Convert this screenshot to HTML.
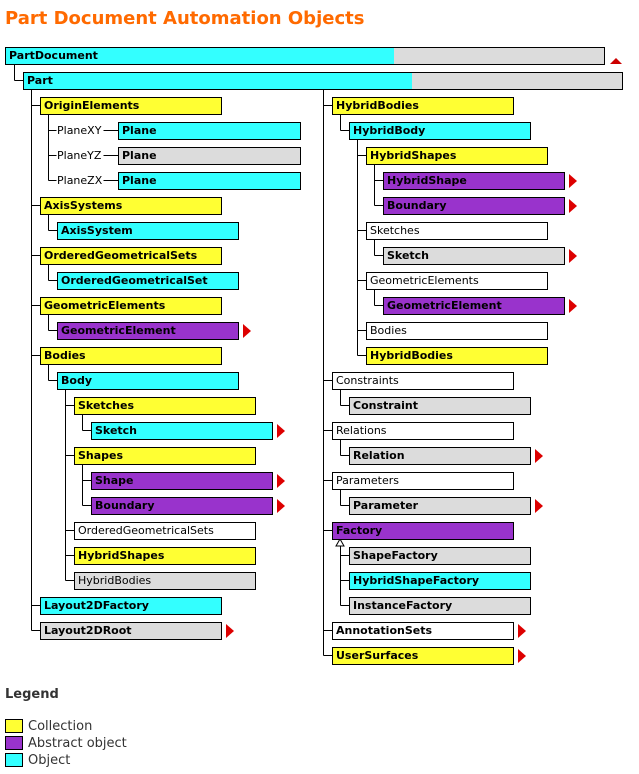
<!DOCTYPE html>
<html><head><meta charset="utf-8">
<style>
body{margin:0;width:639px;height:774px;background:#fff;position:relative;overflow:hidden;font-family:"DejaVu Sans","Liberation Sans",sans-serif;}
.t{position:absolute;left:5px;top:8px;font-size:18px;font-weight:bold;color:#ff6a00;font-family:"DejaVu Sans",sans-serif;}
.b{position:absolute;box-sizing:border-box;border:1px solid #000;height:18px;font-size:11px;line-height:15px;padding-left:3px;color:#000;white-space:nowrap;overflow:hidden;}
.y{background:#ffff33}.c{background:#33ffff}.p{background:#9933cc}.g{background:#dcdcdc}.w{background:#fff}
.bold{font-weight:bold}
.lbl{position:absolute;font-size:11px;color:#000;}
.lg{position:absolute;font-size:13px;color:#333;}
svg{position:absolute;left:0;top:0}
</style></head><body>
<div class="t">Part Document Automation Objects</div>
<svg id="s" width="639" height="774"></svg>
<div id="root"></div>
<div class="lg" style="left:5px;top:687px;font-weight:bold;color:#333">Legend</div>
<div class="b y" style="left:5px;top:719px;width:18px;height:14px"></div>
<div class="lg" style="left:28px;top:719px">Collection</div>
<div class="b p" style="left:5px;top:736px;width:18px;height:14px"></div>
<div class="lg" style="left:28px;top:736px">Abstract object</div>
<div class="b c" style="left:5px;top:753px;width:18px;height:14px"></div>
<div class="lg" style="left:28px;top:753px">Object</div>
<script>
const boxes=[
[40,97,221,'y','OriginElements',1,0],
[118,122,300,'c','Plane',1,0],[118,147,300,'g','Plane',1,0],[118,172,300,'c','Plane',1,0],
[40,197,221,'y','AxisSystems',1,0],[57,222,238,'c','AxisSystem',1,0],
[40,247,221,'y','OrderedGeometricalSets',1,0],[57,272,238,'c','OrderedGeometricalSet',1,0],
[40,297,221,'y','GeometricElements',1,0],[57,322,238,'p','GeometricElement',1,1],
[40,347,221,'y','Bodies',1,0],[57,372,238,'c','Body',1,0],
[74,397,255,'y','Sketches',1,0],[91,422,272,'c','Sketch',1,1],
[74,447,255,'y','Shapes',1,0],[91,472,272,'p','Shape',1,1],[91,497,272,'p','Boundary',1,1],
[74,522,255,'w','OrderedGeometricalSets',0,0],[74,547,255,'y','HybridShapes',1,0],[74,572,255,'g','HybridBodies',0,0],
[40,597,221,'c','Layout2DFactory',1,0],[40,622,221,'g','Layout2DRoot',1,1],
[332,97,513,'y','HybridBodies',1,0],[349,122,530,'c','HybridBody',1,0],
[366,147,547,'y','HybridShapes',1,0],[383,172,564,'p','HybridShape',1,1],[383,197,564,'p','Boundary',1,1],
[366,222,547,'w','Sketches',0,0],[383,247,564,'g','Sketch',1,1],
[366,272,547,'w','GeometricElements',0,0],[383,297,564,'p','GeometricElement',1,1],
[366,322,547,'w','Bodies',0,0],[366,347,547,'y','HybridBodies',1,0],
[332,372,513,'w','Constraints',0,0],[349,397,530,'g','Constraint',1,0],
[332,422,513,'w','Relations',0,0],[349,447,530,'g','Relation',1,1],
[332,472,513,'w','Parameters',0,0],[349,497,530,'g','Parameter',1,1],
[332,522,513,'p','Factory',1,0],[349,547,530,'g','ShapeFactory',1,0],[349,572,530,'c','HybridShapeFactory',1,0],[349,597,530,'g','InstanceFactory',1,0],
[332,622,513,'w','AnnotationSets',1,1],[332,647,513,'y','UserSurfaces',1,1]
];
const root=document.getElementById('root');
const svg=document.getElementById('s');
function line(x1,y1,x2,y2){const l=document.createElementNS('http://www.w3.org/2000/svg','line');
l.setAttribute('x1',x1+.5);l.setAttribute('y1',y1+.5);l.setAttribute('x2',x2+.5);l.setAttribute('y2',y2+.5);l.setAttribute('stroke','#000');


svg.appendChild(l);}
function tri(pts,fill,name){const p=document.createElementNS('http://www.w3.org/2000/svg','polygon');p.setAttribute('points',pts);p.setAttribute('fill',fill);


svg.appendChild(p);}
function mk(x1,y,x2,cls,txt,bold,name){const d=document.createElement('div');d.className='b '+cls+(bold?' bold':'');
d.style.left=x1+'px';d.style.top=y+'px';d.style.width=(x2-x1+1)+'px';d.textContent=txt;


root.appendChild(d);return d;}
let d=mk(5,47,604,'c','PartDocument',1,'partdocument-box');d.style.background='linear-gradient(to right,#33ffff 0,#33ffff 388px,#dcdcdc 388px)';
d=mk(23,72,622,'c','Part',1,'part-box');d.style.background='linear-gradient(to right,#33ffff 0,#33ffff 388px,#dcdcdc 388px)';
tri('610,64 616,58 622,64','#cc0000','partdocument-collapse-arrow');
line(14,64,14,80);line(14,80,23,80);
boxes.forEach(b=>{mk(b[0],b[1],b[2],b[3],b[4],b[5],b[4].toLowerCase()+'-box');
 if(b[6]){tri((b[2]+5)+','+(b[1]+2)+' '+(b[2]+13)+','+(b[1]+9)+' '+(b[2]+5)+','+(b[1]+16),'#dd0000',b[4].toLowerCase()+'-arrow');}
 if(b[0]!==118) line(b[0]-9,b[1]+8,b[0],b[1]+8);
});
[['PlaneXY',122],['PlaneYZ',147],['PlaneZX',172]].forEach(p=>{line(48,p[1]+8,56,p[1]+8);line(103,p[1]+8,118,p[1]+8);
 const e=document.createElement('div');e.className='lbl';e.style.left='57px';e.style.top=(p[1]+2)+'px';e.textContent=p[0];
 
 
 root.appendChild(e);});
line(31,89,31,630);line(48,114,48,180);line(48,214,48,230);line(48,264,48,280);line(48,314,48,330);line(48,364,48,380);
line(65,389,65,580);line(82,414,82,430);line(82,464,82,505);
line(323,89,323,655);line(340,114,340,130);line(357,139,357,355);line(374,164,374,205);line(374,239,374,255);line(374,289,374,305);
line(340,389,340,405);line(340,439,340,455);line(340,489,340,505);line(340,545,340,605);
tri('340,539 336,546 344,546','#fff','inheritance-marker');
const t=svg.lastChild;t.setAttribute('stroke','#000');
</script>
</body></html>
